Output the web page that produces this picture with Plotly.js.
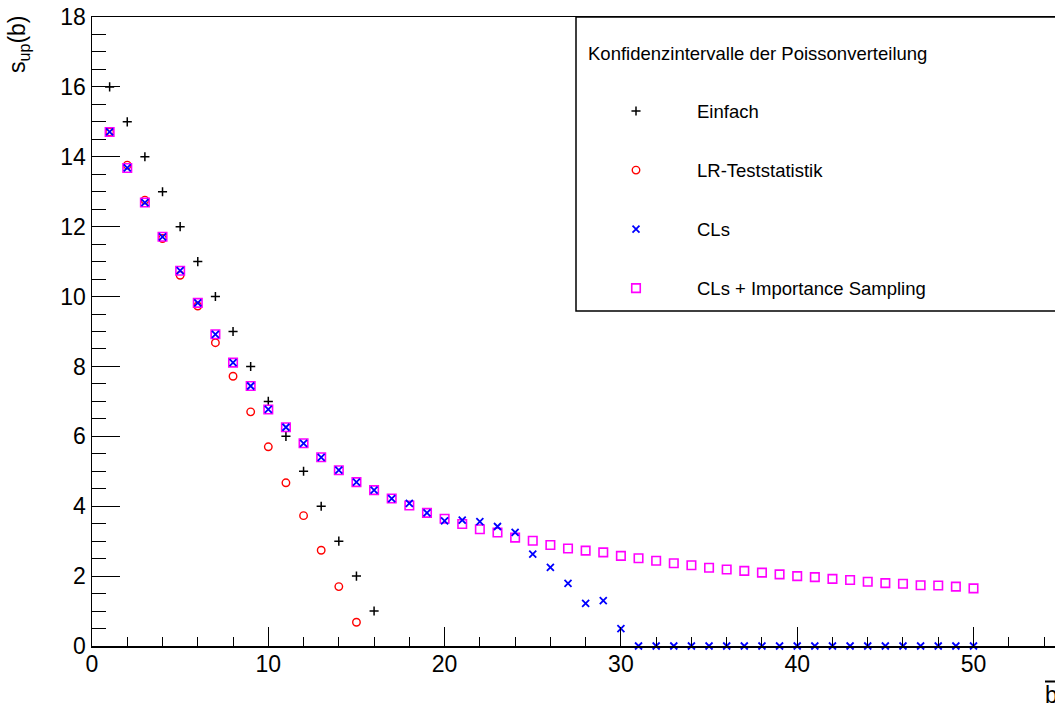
<!DOCTYPE html>
<html>
<head>
<meta charset="utf-8">
<script src="https://cdn.plot.ly/plotly-3.0.1.min.js"></script>
<style>html,body{margin:0;padding:0;background:#fff;}#chart{width:1055px;height:707px;}</style>
</head>
<body>
<div id="chart"></div>
<script>
// ---- data ----
const bEinfach = [1,2,3,4,5,6,7,8,9,10,11,12,13,14,15,16];
const sEinfach = [16,15,14,13,12,11,10,9,8,7,6,5,4,3,2,1];

const bLR = [1,2,3,4,5,6,7,8,9,10,11,12,13,14,15];
const sLR = [14.71,13.76,12.76,11.66,10.61,9.73,8.68,7.72,6.70,5.70,4.67,3.73,2.74,1.70,0.68];

const bCLs = [1,2,3,4,5,6,7,8,9,10,11,12,13,14,15,16,17,18,19,20,21,22,23,24,25,
              26,27,28,29,30,31,32,33,34,35,36,37,38,39,40,41,42,43,44,45,46,47,48,49,50];
const sCLs = [14.71,13.68,12.69,11.71,10.74,9.82,8.92,8.11,7.44,6.77,6.26,5.80,5.40,5.03,4.69,
              4.46,4.22,4.08,3.81,3.58,3.60,3.56,3.42,3.25,2.63,2.25,1.79,1.22,1.30,0.50,
              0,0,0,0,0,0,0,0,0,0,0,0,0,0,0,0,0,0,0,0];

const bIS = bCLs;
const sIS = [14.71,13.68,12.69,11.71,10.74,9.82,8.92,8.11,7.44,6.77,6.26,5.80,5.40,5.03,4.69,
             4.46,4.22,4.02,3.81,3.64,3.49,3.34,3.25,3.10,3.01,2.89,2.79,2.73,2.68,2.58,
             2.51,2.44,2.37,2.31,2.24,2.19,2.15,2.10,2.05,2.00,1.97,1.92,1.89,1.84,1.80,
             1.78,1.74,1.73,1.70,1.65];

const seriesNames = ["Einfach", "LR-Teststatistik", "CLs", "CLs + Importance Sampling"];
const legendTitle = "Konfidenzintervalle der Poissonverteilung";
const yTitle = "s<sub>up</sub>(b)";
const xTitle = "b";

// ---- figure ----
const FONT = "Liberation Sans, Arial, Helvetica, sans-serif";

const tEinfach = {x: bEinfach, y: sEinfach, name: seriesNames[0], legendgroup: "g1", legendrank: 1,
  mode: "markers", type: "scatter", cliponaxis: false,
  marker: {symbol: "cross-thin-open", size: 6.5, color: "#000", line: {color: "#000", width: 1.5}}};
const tLR = {x: bLR, y: sLR, name: seriesNames[1], legendgroup: "g2", legendrank: 2,
  mode: "markers", type: "scatter", cliponaxis: false,
  marker: {symbol: "circle-open", size: 7.5, color: "#ff0000", line: {color: "#ff0000", width: 1.4}}};
const tCLs = {x: bCLs, y: sCLs, name: seriesNames[2], legendgroup: "g3", legendrank: 3,
  mode: "markers", type: "scatter", cliponaxis: false,
  marker: {symbol: "x-thin-open", size: 7, color: "#0000ff", line: {color: "#0000ff", width: 1.8}}};
const tIS = {x: bIS, y: sIS, name: seriesNames[3], legendgroup: "g4", legendrank: 4,
  mode: "markers", type: "scatter", cliponaxis: false,
  marker: {symbol: "square-open", size: 8.5, color: "#ff00ff", line: {color: "#ff00ff", width: 1.6}}};
// draw CLs on top of the squares like the reference; legend order is set by legendrank
const ordered = [tEinfach, tLR, tIS, tCLs];

const pxL = 92, pxT = 17, pxB = 646, W = 1055;
const plotW = W - pxL, plotH = pxB - pxT;
const px2x = p => (p - pxL) / plotW;
const px2y = p => (pxB - p) / plotH;

const layout = {
  width: 1055, height: 707,
  margin: {l: pxL, r: 0, t: pxT, b: 707 - pxB, pad: 0},
  paper_bgcolor: "#fff", plot_bgcolor: "#fff",
  font: {family: FONT, color: "#000"},
  showlegend: true,
  legend: {
    x: px2x(575), xanchor: "left", y: px2y(92.5), yanchor: "top",
    bgcolor: "rgba(0,0,0,0)", borderwidth: 0,
    font: {family: FONT, size: 18.5, color: "#000"},
    itemwidth: 112, tracegroupgap: 32, traceorder: "grouped"
  },
  xaxis: {
    range: [0, (W - pxL) / 17.63], showgrid: false, zeroline: false,
    showline: true, linecolor: "#000", linewidth: 1.5, mirror: true,
    ticks: "inside", ticklen: 19, tickwidth: 1, tickcolor: "#000",
    tick0: 0, dtick: 10, ticklabelstandoff: -3,
    tickfont: {family: FONT, size: 23, color: "#000"},
    minor: {ticks: "inside", ticklen: 9, tickwidth: 1, tickcolor: "#000", dtick: 2, showgrid: false}
  },
  yaxis: {
    range: [0, 18], showgrid: false, zeroline: false,
    showline: true, linecolor: "#000", linewidth: 1.5,
    ticks: "inside", ticklen: 28, tickwidth: 1, tickcolor: "#000",
    tick0: 0, dtick: 2, tickfont: {family: FONT, size: 23, color: "#000"},
    minor: {ticks: "inside", ticklen: 14, tickwidth: 1, tickcolor: "#000", dtick: 0.5, showgrid: false}
  },
  shapes: [
    {type: "rect", xref: "paper", yref: "paper", x0: px2x(576), x1: 1.05, y0: px2y(311), y1: 1,
     line: {color: "#000", width: 1.5}, fillcolor: "rgba(0,0,0,0)", layer: "above"},
    {type: "line", xref: "paper", yref: "paper", x0: px2x(1045), x1: 1.02, y0: px2y(681.5), y1: px2y(681.5),
     line: {color: "#000", width: 2}}
  ],
  annotations: [
    {text: legendTitle, xref: "paper", yref: "paper", x: px2x(586), y: px2y(53),
     xanchor: "left", yanchor: "middle", showarrow: false,
     font: {family: FONT, size: 18.5, color: "#000"}},
    {text: yTitle, xref: "paper", yref: "paper", x: px2x(19), y: px2y(44),
     xanchor: "center", yanchor: "middle", textangle: -90, showarrow: false,
     font: {family: FONT, size: 23, color: "#000"}},
    {text: xTitle, xref: "paper", yref: "paper", x: px2x(1043), y: px2y(695),
     xanchor: "left", yanchor: "middle", showarrow: false,
     font: {family: FONT, size: 23, color: "#000"}}
  ]
};

Plotly.newPlot("chart", ordered, layout, {displayModeBar: false, staticPlot: true});
</script>
</body>
</html>
